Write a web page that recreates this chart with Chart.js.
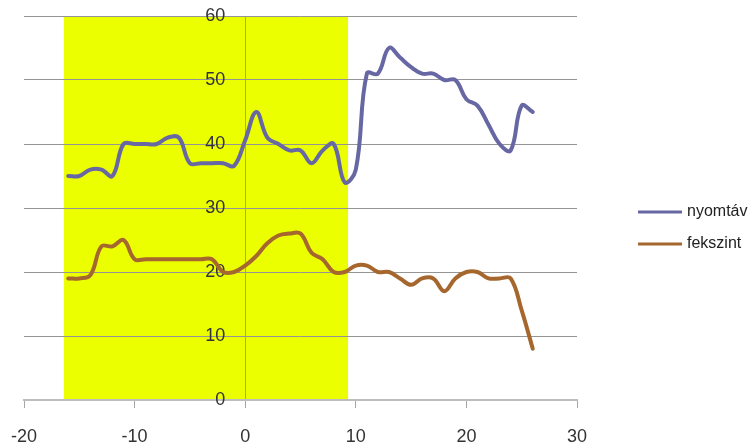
<!DOCTYPE html>
<html>
<head>
<meta charset="utf-8">
<script src="https://cdn.jsdelivr.net/npm/chart.js@4"></script>
<style>
  html, body { margin: 0; padding: 0; background: #fff; }
  #wrap { width: 749px; height: 445px; position: relative; }
</style>
</head>
<body>
<div id="wrap"><canvas id="c" width="749" height="445"></canvas></div>
<script>
// Positions along the horizontal axis
const positions = [-16,-15,-14,-13,-12,-11,-10,-9,-8,-7,-6,-5,-4,-3,-2,-1,0,1,2,3,4,5,6,7,8,9,10,11,12,13,14,15,16,17,18,19,20,21,22,23,24,25,26];

// nyomtáv series
const nyomtav = [35,35,36,36,35,40,40,40,40,41,41,37,37,37,37,36.6,40.6,45,41,40,39,39,37,39,40,34,36,51,51,55,53.5,52,51,51,50,50,47,46,43,40,39,46,45];

// fekszint series
const fekszint = [19,19,19.5,24,24,25,22,22,22,22,22,22,22,22,20,20,21,22.5,24.5,25.7,26,26,23,22,20,20,21,21,20,20,19,18,19,19,17,19,20,20,19,19,19,14,8];

// Highlighted interval on the x axis
const bandRange = [-16.4, 9.3];

// Axis limits and tick steps
const xLimits = [-20, 30];
const xStep = 10;
const yLimits = [0, 60];
const yStep = 10;

const seriesNames = ['nyomtáv', 'fekszint'];
const seriesColors = ['#6767A3', '#A5672D'];

// The y labels sit a little to the left of the vertical zero line
const yLabelAnchor = -1.8;

const toPoints = (vals) => positions.map((x, i) => ({ x, y: vals[i] }));

const bandPlugin = {
  id: 'band',
  beforeDraw(chart) {
    const { ctx, scales: { x, y } } = chart;
    const left = x.getPixelForValue(bandRange[0]);
    const right = x.getPixelForValue(bandRange[1]);
    const top = y.getPixelForValue(yLimits[1]);
    const bottom = y.getPixelForValue(yLimits[0]);
    ctx.save();
    ctx.fillStyle = '#EBFF00';
    ctx.fillRect(left, top, right - left, bottom - top - 1);
    ctx.restore();
  }
};

const legendPlugin = {
  id: 'sideLegend',
  afterDraw(chart) {
    const { ctx } = chart;
    ctx.save();
    ctx.font = '16px "Liberation Sans", Arial, sans-serif';
    ctx.textBaseline = 'middle';
    ctx.fillStyle = '#222';
    chart.data.datasets.forEach((ds, i) => {
      const yy = 212 + i * 32;
      ctx.strokeStyle = ds.borderColor;
      ctx.lineWidth = 3;
      ctx.beginPath();
      ctx.moveTo(638, yy);
      ctx.lineTo(682, yy);
      ctx.stroke();
      ctx.fillText(ds.label, 687, yy);
    });
    ctx.restore();
  }
};

const tickFont = { family: '"Liberation Sans", Arial, sans-serif', size: 18 };

new Chart(document.getElementById('c'), {
  type: 'line',
  data: {
    datasets: [
      { label: seriesNames[0], data: toPoints(nyomtav), borderColor: seriesColors[0] },
      { label: seriesNames[1], data: toPoints(fekszint), borderColor: seriesColors[1] }
    ]
  },
  options: {
    responsive: false,
    animation: false,
    layout: { padding: { left: 24, right: 172, top: 16, bottom: 0 } },
    elements: {
      line: { borderWidth: 4, tension: 0.4, fill: false, borderCapStyle: 'round', borderJoinStyle: 'round' },
      point: { radius: 0 }
    },
    plugins: { legend: { display: false }, tooltip: { enabled: false } },
    scales: {
      x: {
        type: 'linear',
        min: xLimits[0], max: xLimits[1],
        ticks: { stepSize: xStep, color: '#333', font: tickFont, padding: 18, maxRotation: 0 },
        grid: {
          drawOnChartArea: true, drawTicks: true, tickLength: 8,
          color: (c) => (c.tick && c.tick.value === 0 ? '#A0A0A0' : 'rgba(0,0,0,0)'),
          tickColor: '#A6A6A6', lineWidth: 1
        },
        border: { display: true, color: '#BDBDBD', width: 2 },
        afterFit(scale) {
          scale.height = 45;
          scale.paddingLeft = 0;
          scale.paddingRight = 0;
        }
      },
      y: {
        type: 'linear',
        position: { x: yLabelAnchor },
        min: yLimits[0], max: yLimits[1],
        ticks: { stepSize: yStep, color: '#333', font: tickFont },
        grid: { drawTicks: false, color: '#959595', lineWidth: 1 },
        border: { display: false },
        afterFit(scale) {
          scale.paddingTop = 0;
          scale.paddingBottom = 0;
        }
      }
    }
  },
  plugins: [bandPlugin, legendPlugin]
});
</script>
</body>
</html>
